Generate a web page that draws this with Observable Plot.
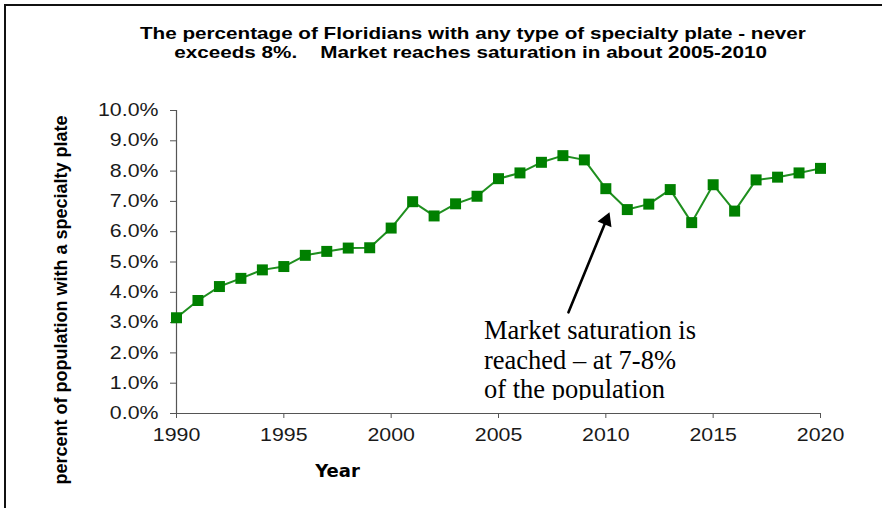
<!DOCTYPE html>
<html><head><meta charset="utf-8">
<script src="https://cdn.jsdelivr.net/npm/d3@7"></script>
<script src="https://cdn.jsdelivr.net/npm/@observablehq/plot@0.6"></script>
<style>
html,body{margin:0;padding:0;background:#fff;overflow:hidden;}
#wrap{position:relative;width:882px;height:508px;overflow:hidden;background:#fff;}
#chart{position:absolute;left:0;top:0;}
#frame{position:absolute;left:4px;top:4px;width:1000px;height:1000px;border-top:2px solid #111;border-left:2px solid #111;pointer-events:none;}
.title{position:absolute;width:882px;text-align:center;font-family:"Liberation Sans",Arial,sans-serif;font-weight:bold;font-size:16.5px;line-height:20px;white-space:pre;color:#000;}
.title span{display:inline-block;transform-origin:center center;}
#note{position:absolute;left:484px;top:316px;height:84px;overflow:hidden;font-family:"Liberation Serif","Times New Roman",serif;font-size:26.5px;line-height:29.5px;color:#000;white-space:nowrap;}
#ylab{position:absolute;left:61px;top:300px;transform:translate(-50%,-50%) rotate(-90deg);font-family:"Liberation Sans",Arial,sans-serif;font-weight:bold;font-size:18px;white-space:nowrap;color:#000;}
</style></head>
<body>
<div id="wrap">
  <div id="chart"></div>
  <div class="title" id="t1" style="left:32px;top:23px;"><span>The percentage of Floridians with any type of specialty plate - never</span></div>
  <div class="title" id="t2" style="left:30px;top:42px;"><span>exceeds 8%.    Market reaches saturation in about 2005-2010</span></div>
  <div id="ylab"></div>
  <div id="note">Market saturation is<br>reached – at 7-8%<br>of the population</div>
  <div id="frame"></div>
</div>
<script>
// ---- data ----
const years = [1990,1991,1992,1993,1994,1995,1996,1997,1998,1999,2000,2001,2002,2003,2004,2005,2006,2007,2008,2009,2010,2011,2012,2013,2014,2015,2016,2017,2018,2019,2020];
const percents = [3.16,3.73,4.19,4.46,4.74,4.85,5.22,5.35,5.46,5.47,6.12,6.99,6.52,6.92,7.17,7.75,7.94,8.29,8.51,8.37,7.42,6.73,6.91,7.39,6.30,7.55,6.68,7.71,7.80,7.94,8.09];
const yTicks = [0,1,2,3,4,5,6,7,8,9,10];
const xTicks = [1990,1995,2000,2005,2010,2015,2020];
const arrowTail = {year: 2008.26, value: 3.34};
const arrowTip = {year: 2010.17, value: 6.64};
const yLabel = "percent of population with a specialty plate";
const xLabel = "Year";

const data = years.map((y, i) => ({year: y, value: percents[i]}));
document.getElementById("ylab").textContent = yLabel;

const chart = Plot.plot({
  width: 882,
  height: 508,
  marginTop: 110,
  marginBottom: 95,
  marginLeft: 176,
  marginRight: 62,
  style: {fontFamily: "'Liberation Sans', Arial, sans-serif", fontSize: "17.5px", background: "transparent", color: "#1a1a1a"},
  x: {domain: [1990, 2020]},
  y: {domain: [0, 10]},
  marks: [
    Plot.axisY({ticks: yTicks, tickFormat: d => d.toFixed(1) + "%", tickSize: 6, tickPadding: 12, label: null, stroke: "#555", fill: "#1a1a1a"}),
    Plot.axisX({ticks: xTicks, tickFormat: d => String(d), tickSize: 5, tickPadding: 10, label: null, stroke: "#555", fill: "#1a1a1a"}),
    Plot.ruleX([1990], {stroke: "#555", strokeWidth: 1.2}),
    Plot.ruleY([0], {stroke: "#555", strokeWidth: 1.2}),
    Plot.line(data, {x: "year", y: "value", stroke: "#1f8f1f", strokeWidth: 2}),
    Plot.dot(data, {x: "year", y: "value", symbol: "square", r: 6.2, fill: "#008000", stroke: "none"}),
    Plot.arrow([{a: arrowTail, b: arrowTip}], {
      x1: d => d.a.year, y1: d => d.a.value, x2: d => d.b.year, y2: d => d.b.value,
      bend: 0, headLength: 0, insetEnd: 11, stroke: "#000", strokeWidth: 2.6
    }),
    Plot.dot([arrowTip], {x: "year", y: "value", symbol: "triangle", r: 5.6, fill: "#000", stroke: "none", rotate: 22.3, dx: -3.3, dy: 8.05}),
    Plot.text([xLabel], {frameAnchor: "bottom", text: d => d, dx: -161, dy: 63, fontWeight: "bold", fontSize: 18, fontFamily: "'DejaVu Sans', sans-serif", fill: "#000"})
  ]
});
document.getElementById("chart").appendChild(chart);

// widen tick label glyphs like the reference
chart.querySelectorAll('g[aria-label="y-axis tick label"] text, g[aria-label="x-axis tick label"] text').forEach(t => {
  const tr = t.getAttribute("transform");
  if (tr) t.setAttribute("transform", tr + " scale(1.22,1)");
});

// fit title width to the reference
const s1 = document.querySelector("#t1 span");
const s2 = document.querySelector("#t2 span");
const k = 666 / s1.getBoundingClientRect().width;
s1.style.transform = `scaleX(${k})`;
s2.style.transform = `scaleX(${k})`;
</script>
</body></html>
